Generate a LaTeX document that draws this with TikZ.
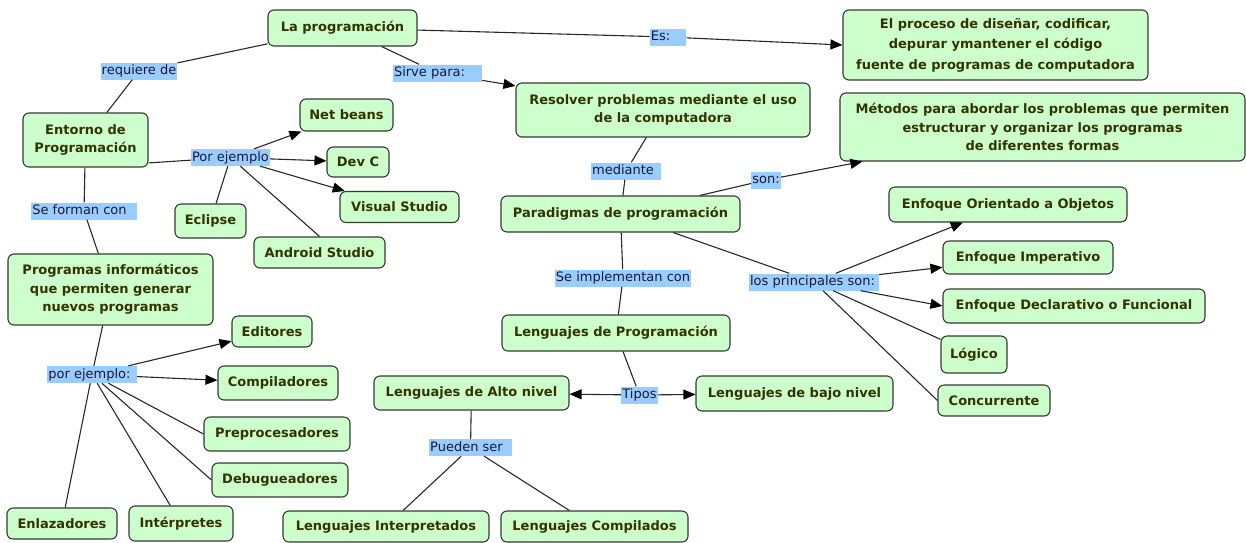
\documentclass[tikz,border=0pt]{standalone}
\usepackage{fontspec}
\setmainfont{DejaVu Sans}
\usetikzlibrary{arrows.meta}
\definecolor{cfill}{RGB}{204,255,204}
\definecolor{cborder}{RGB}{55,55,55}
\definecolor{ctext}{RGB}{51,51,0}
\definecolor{lfill}{RGB}{153,204,255}
\definecolor{ltext}{RGB}{25,25,55}
\definecolor{lcol}{RGB}{40,40,40}
\tikzset{
  concept/.style={draw=cborder, fill=cfill, rounded corners=6pt, line width=1.1pt,
    text=ctext, font=\bfseries\fontsize{13}{18.5}\selectfont, align=center, inner sep=0pt},
  lbl/.style={fill=lfill, text=ltext, font=\fontsize{13}{15}\selectfont,
    inner xsep=1pt, inner ysep=2pt, text height=10pt, text depth=3pt},
  link/.style={draw=lcol, line width=1.1pt},
  arr/.style={link, -{Triangle[length=12pt,width=10pt,color=black,fill=black]}},
}
\begin{document}
\begin{tikzpicture}[x=1pt,y=-1pt]
\useasboundingbox (0,0) rectangle (1246,542);

% concepts
\node[concept, minimum width=149pt, minimum height=36pt] (prog) at (342.5,28) {La programación};
\node[concept, minimum width=305pt, minimum height=70pt, font=\bfseries\fontsize{13}{20.5}\selectfont] (proc) at (995.5,45)
  {El proceso de diseñar, codificar,\\depurar ymantener el código\\fuente de programas de computadora};
\node[concept, minimum width=294pt, minimum height=54pt] (resol) at (663,110)
  {Resolver problemas mediante el uso\\de la computadora};
\node[concept, minimum width=405pt, minimum height=68pt] (metod) at (1042.5,127)
  {Métodos para abordar los problemas que permiten\\estructurar y organizar los programas\\de diferentes formas};
\node[concept, minimum width=125pt, minimum height=54pt] (ent) at (85.5,140) {Entorno de\\Programación};
\node[concept, minimum width=93pt, minimum height=32pt] (net) at (346.5,115) {Net beans};
\node[concept, minimum width=62pt, minimum height=30pt] (devc) at (358,162) {Dev C};
\node[concept, minimum width=119pt, minimum height=31pt] (vs) at (399.5,207) {Visual Studio};
\node[concept, minimum width=71pt, minimum height=34pt] (ecl) at (210.5,221) {Eclipse};
\node[concept, minimum width=131pt, minimum height=31pt] (andr) at (319.5,252.5) {Android Studio};
\node[concept, minimum width=239pt, minimum height=36pt] (para) at (620.5,214) {Paradigmas de programación};
\node[concept, minimum width=205pt, minimum height=71pt] (progi) at (110.5,289.5)
  {Programas informáticos\\que permiten generar\\nuevos programas};
\node[concept, minimum width=80pt, minimum height=31pt] (edit) at (272,331.5) {Editores};
\node[concept, minimum width=228pt, minimum height=36pt] (lprog) at (616,333) {Lenguajes de Programación};
\node[concept, minimum width=238pt, minimum height=35pt] (oo) at (1008,204.5) {Enfoque Orientado a Objetos};
\node[concept, minimum width=170pt, minimum height=33pt] (imp) at (1028,257.5) {Enfoque Imperativo};
\node[concept, minimum width=262pt, minimum height=34pt] (decl) at (1074,306) {Enfoque Declarativo o Funcional};
\node[concept, minimum width=66pt, minimum height=37pt] (logi) at (974,354.5) {Lógico};
\node[concept, minimum width=112pt, minimum height=31pt] (conc) at (994,400.5) {Concurrente};
\node[concept, minimum width=120pt, minimum height=34pt] (comp) at (278,383) {Compiladores};
\node[concept, minimum width=195pt, minimum height=34pt] (alto) at (471.5,393) {Lenguajes de Alto nivel};
\node[concept, minimum width=197pt, minimum height=35pt] (bajo) at (794.5,393.5) {Lenguajes de bajo nivel};
\node[concept, minimum width=146pt, minimum height=34pt] (pre) at (277,434) {Preprocesadores};
\node[concept, minimum width=136pt, minimum height=34pt] (deb) at (280,480) {Debugueadores};
\node[concept, minimum width=110pt, minimum height=31pt] (enl) at (62,523.5) {Enlazadores};
\node[concept, minimum width=104pt, minimum height=35pt] (intp) at (181,523.5) {Intérpretes};
\node[concept, minimum width=206pt, minimum height=31pt] (linterp) at (386,526.5) {Lenguajes Interpretados};
\node[concept, minimum width=187pt, minimum height=31pt] (lcomp) at (594.5,526.5) {Lenguajes Compilados};

% linking phrases (trailing kerns keep the padded label boxes)
\node[lbl] (lreq) at (139,71) {requiere de};
\node[lbl] (les) at (668,37) {Es:\kern15pt};
\node[lbl] (lsirve) at (437.5,73) {Sirve para:\kern16pt};
\node[lbl] (lmed) at (626,171) {mediante\kern6pt};
\node[lbl] (lson) at (766,180) {son:};
\node[lbl] (limpl) at (623,278) {Se implementan con};
\node[lbl] (lprin) at (814,282) {los principales son:\kern3pt};
\node[lbl] (ltipos) at (639.5,395) {Tipos};
\node[lbl] (lpued) at (470.5,447.5) {Pueden ser\kern8pt};
\node[lbl] (lpor) at (230.5,157.5) {Por ejemplo};
\node[lbl] (lform) at (84,211) {Se forman con\kern9pt};
\node[lbl] (lpor2) at (92,374.5) {por ejemplo:\kern5pt};

% connectors
\draw[link] (prog) -- (lreq);
\draw[link] (lreq) -- (ent);
\draw[link] (prog) -- (les);
\draw[arr] (les) -- (proc.west);
\draw[link] (prog) -- (lsirve);
\draw[arr] (lsirve) -- (resol);
\draw[link] (resol) -- (lmed);
\draw[link] (lmed) -- (para);
\draw[link] (para) -- (lson);
\draw[arr] (lson) -- (metod);
\draw[link] (para) -- (limpl);
\draw[link] (limpl) -- (lprog);
\draw[link] (para) -- (lprin);
\draw[arr] (lprin) -- (oo);
\draw[arr] (lprin) -- (imp);
\draw[arr] (lprin) -- (decl.west);
\draw[link] (lprin) -- (logi);
\draw[link] (lprin) -- (conc.west);
\draw[link] (lprog) -- (ltipos);
\draw[arr] (ltipos) -- (alto);
\draw[arr] (ltipos) -- (bajo);
\draw[link] (alto) -- (lpued);
\draw[link] (lpued) -- (linterp);
\draw[link] (lpued) -- (lcomp);
\draw[link] (ent.-20) -- (lpor);
\draw[arr] (lpor) -- (net);
\draw[arr] (lpor) -- (devc);
\draw[arr] (lpor) -- (vs);
\draw[link] (lpor) -- (ecl);
\draw[link] (lpor) -- (andr.north);
\draw[link] (ent) -- (lform);
\draw[link] (lform) -- (progi);
\draw[link] (progi) -- (lpor2);
\draw[arr] (lpor2) -- (edit);
\draw[arr] (lpor2) -- (comp);
\draw[link] (lpor2) -- (pre.west);
\draw[link] (lpor2) -- (deb.west);
\draw[link] (lpor2) -- (enl);
\draw[link] (lpor2) -- (intp);
\end{tikzpicture}
\end{document}
